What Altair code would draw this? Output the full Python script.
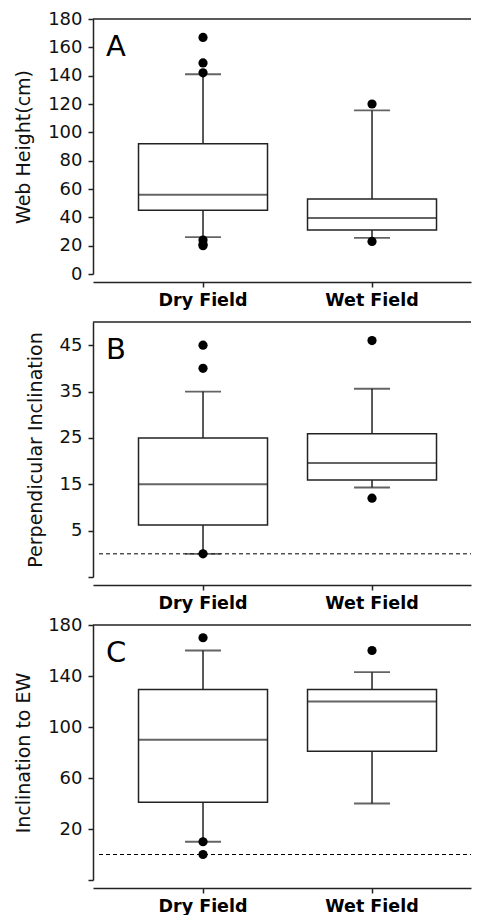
import altair as alt
import pandas as pd

groups = ["Dry Field", "Wet Field"]

# Panel A: Web Height (cm)
a_q1 = [45, 31]
a_median = [56, 39.5]
a_q3 = [92, 53]
a_low = [26, 25.5]
a_high = [141, 115.5]
a_out_group = ["Dry Field", "Dry Field", "Dry Field", "Dry Field", "Dry Field", "Dry Field", "Wet Field", "Wet Field"]
a_out_value = [167, 149, 142, 24, 21, 20, 120, 23]
a_ticks = [0, 20, 40, 60, 80, 100, 120, 140, 160, 180]

# Panel B: Perpendicular Inclination
b_q1 = [6.2, 15.9]
b_median = [15, 19.6]
b_q3 = [25, 25.9]
b_low = [0, 14.3]
b_high = [35, 35.6]
b_out_group = ["Dry Field", "Dry Field", "Dry Field", "Wet Field", "Wet Field"]
b_out_value = [45, 40, 0, 46, 12]
b_ticks = [-5, 5, 15, 25, 35, 45]

# Panel C: Inclination to EW
c_q1 = [41, 81]
c_median = [90, 120]
c_q3 = [129.5, 129.5]
c_low = [10, 40]
c_high = [160, 143]
c_out_group = ["Dry Field", "Dry Field", "Dry Field", "Wet Field"]
c_out_value = [170, 10, 0, 160]
c_ticks = [-20, 20, 60, 100, 140, 180]

W = 378
H = 255
INK = "#222222"
FONT = "DejaVu Sans"


def panel(letter, title, q1, med, q3, lo, hi, og, ov, domain, ticks, ref_zero):
    stats = pd.DataFrame({"group": groups, "q1": q1, "median": med, "q3": q3, "lo": lo, "hi": hi})
    outl = pd.DataFrame({"group": og, "value": ov})

    xaxis = alt.Axis(
        title=None, labelAngle=0, offset=8, domainColor=INK, domainWidth=1.5,
        tickColor=INK, tickWidth=1.5, tickSize=5, labelFont=FONT, labelFontWeight="bold",
        labelFontSize=17.5, labelColor="black", labelPadding=4, grid=False,
    )
    yaxis = alt.Axis(
        title=title, values=ticks, labelExpr="datum.value < 0 ? '' : datum.label",
        domainColor=INK, domainWidth=1.5, tickColor=INK, tickWidth=1.5, tickSize=5,
        labelFont=FONT, labelFontSize=18, labelColor="#111111", labelPadding=6,
        titleFont=FONT, titleFontSize=19, titleFontWeight="normal", titleColor="#111111",
        titlePadding=14, grid=False,
    )
    xs = alt.Scale(type="band", paddingInner=0, paddingOuter=0.1183, align=0.638)
    ys = alt.Scale(domain=domain, nice=False, zero=False)

    def X():
        return alt.X("group:N", sort=groups, scale=xs, axis=xaxis)

    def Y(f):
        return alt.Y(f, scale=ys, axis=yaxis)

    layers = []
    top = alt.Chart(pd.DataFrame({"k": [0]})).mark_rule(color=INK, strokeWidth=1.5).encode(
        x=alt.value(0), x2=alt.value(W), y=alt.value(0)
    )
    layers.append(top)
    if ref_zero:
        ref = alt.Chart(pd.DataFrame({"v": [0]})).mark_rule(
            color="black", strokeWidth=1, strokeDash=[4, 3]
        ).encode(x=alt.value(6), x2=alt.value(W), y=Y("v:Q"))
        layers.append(ref)
    whisk = alt.Chart(stats).mark_rule(color=INK, strokeWidth=1.5).encode(
        x=X(), y=Y("lo:Q"), y2="hi:Q"
    )
    box = alt.Chart(stats).mark_bar(
        size=129, fill="white", stroke=INK, strokeWidth=1.5
    ).encode(x=X(), y=Y("q1:Q"), y2="q3:Q")
    medt = alt.Chart(stats).mark_tick(size=129, thickness=2, color=INK).encode(
        x=X(), y=Y("median:Q")
    )
    caps = alt.Chart(stats).transform_fold(["lo", "hi"], as_=["k", "v"]).mark_tick(
        size=36, thickness=1.8, color=INK
    ).encode(x=X(), y=Y("v:Q"))
    pts = alt.Chart(outl).mark_circle(size=85, color="black", opacity=1).encode(
        x=X(), y=Y("value:Q")
    )
    lab = alt.Chart(pd.DataFrame({"t": [letter]})).mark_text(
        align="left", baseline="alphabetic", fontSize=29, font=FONT, color="black"
    ).encode(x=alt.value(13), y=alt.value(37), text="t:N")
    layers += [whisk, box, medt, caps, pts, lab]
    return alt.layer(*layers).properties(width=W, height=H)


pa = panel("A", "Web Height(cm)", a_q1, a_median, a_q3, a_low, a_high,
           a_out_group, a_out_value, [0, 180], a_ticks, False)
pb = panel("B", "Perpendicular Inclination", b_q1, b_median, b_q3, b_low, b_high,
           b_out_group, b_out_value, [-5, 50], b_ticks, True)
pc = panel("C", "Inclination to EW", c_q1, c_median, c_q3, c_low, c_high,
           c_out_group, c_out_value, [-20, 180], c_ticks, True)

chart = alt.vconcat(pa, pb, pc, spacing=48, bounds="flush").properties(
    padding={"left": 6, "top": 2, "right": 0, "bottom": 0}, background="white"
).configure_view(strokeWidth=0, stroke="transparent")

chart.save("out.html", embed_options={"renderer": "svg", "actions": False})
